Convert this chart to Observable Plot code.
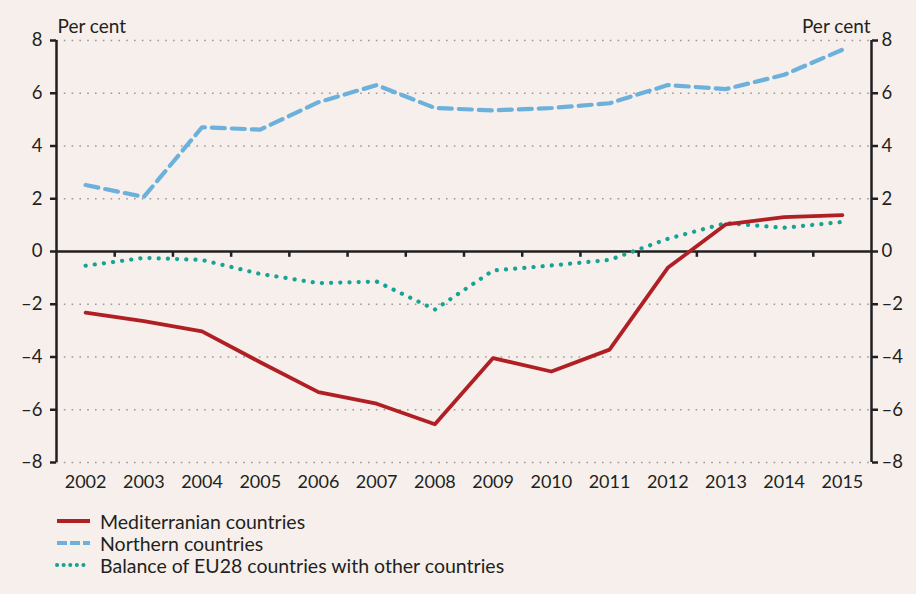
<!DOCTYPE html>
<html>
<head>
<meta charset="utf-8">
<script src="https://cdn.jsdelivr.net/npm/d3@7"></script>
<script src="https://cdn.jsdelivr.net/npm/@observablehq/plot@0.6"></script>
<style>
  html, body { margin: 0; padding: 0; background: #f6efec; }
  body { width: 916px; height: 594px; overflow: hidden; font-family: Lato, "Open Sans", sans-serif; color: #231f20; }
  #chart svg { display: block; }
  #legend { margin-left: 55px; margin-top: 10px; font-size: 19.5px; }
  .row { display: flex; align-items: center; height: 22px; }
  .row svg { margin-right: 8px; }
</style>
</head>
<body>
<div id="chart"></div>
<div id="legend"></div>
<script>
const years = [2002,2003,2004,2005,2006,2007,2008,2009,2010,2011,2012,2013,2014,2015];
const mediterranean = [-2.32,-2.64,-3.03,-4.2,-5.33,-5.77,-6.55,-4.04,-4.55,-3.72,-0.62,1.03,1.3,1.38];
const northern = [2.52,2.07,4.71,4.62,5.66,6.31,5.44,5.35,5.44,5.62,6.31,6.16,6.7,7.65];
const balance = [-0.54,-0.24,-0.32,-0.85,-1.2,-1.14,-2.2,-0.72,-0.53,-0.32,0.48,1.08,0.9,1.12];
const yTicks = [-8,-6,-4,-2,0,2,4,6,8];
const seriesNames = ["Mediterranian countries","Northern countries","Balance of EU28 countries with other countries"];

const colors = {red: "#b01f24", blue: "#6cb0dc", teal: "#15a393"};
const fmt = d => d < 0 ? "\u2013" + Math.abs(d) : String(d);

const med = years.map((x, i) => ({x, y: mediterranean[i]}));
const nor = years.map((x, i) => ({x, y: northern[i]}));
const bal = years.map((x, i) => ({x, y: balance[i]}));
const bounds = years.slice(0, -1).map(y => y + 0.5);

const plot = Plot.plot({
  width: 916,
  height: 500,
  marginLeft: 56,
  marginRight: 45,
  marginTop: 40,
  marginBottom: 38,
  style: {fontFamily: "Lato, 'Open Sans', sans-serif", fontSize: "18px", background: "transparent", color: "#231f20"},
  x: {domain: [2001.5, 2015.5]},
  y: {domain: [-8, 8]},
  marks: [
    Plot.ruleY(yTicks.filter(d => d !== 0), {stroke: "#9a9a9a", strokeWidth: 1.6, strokeDasharray: "1.6,6.2"}),
    Plot.ruleY([0], {stroke: "#231f20", strokeWidth: 2.5}),
    Plot.ruleX(bounds, {y1: 0, y2: -0.22, stroke: "#231f20", strokeWidth: 2.5}),
    Plot.ruleX([2001.5, 2015.5], {y1: -8, y2: 8, stroke: "#231f20", strokeWidth: 2.5}),
    Plot.axisX(years, {tickSize: 0, tickPadding: 13, tickFormat: d => String(d), label: null, fontSize: 18}),
    Plot.axisY(yTicks, {anchor: "left", tickSize: 6, tickPadding: 8, tickFormat: fmt, label: null, strokeWidth: 2.5, fontSize: 18.5}),
    Plot.axisY(yTicks, {anchor: "right", tickSize: 6, tickPadding: 4, tickFormat: fmt, label: null, strokeWidth: 2.5, fontSize: 18.5}),
    Plot.text(["Per cent"], {frameAnchor: "top-left", textAnchor: "start", lineAnchor: "bottom", dy: -8, dx: 1, fontSize: 19}),
    Plot.text(["Per cent"], {frameAnchor: "top-right", textAnchor: "end", lineAnchor: "bottom", dy: -8, dx: -1, fontSize: 19}),
    Plot.line(bal, {x: "x", y: "y", stroke: colors.teal, strokeWidth: 4.2, strokeDasharray: "0.1,9.1", strokeLinecap: "round"}),
    Plot.line(nor, {x: "x", y: "y", stroke: colors.blue, strokeWidth: 4.2, strokeDasharray: "13,7", strokeLinecap: "round"}),
    Plot.line(med, {x: "x", y: "y", stroke: colors.red, strokeWidth: 3.8})
  ]
});
document.getElementById("chart").appendChild(plot);

const styles = [
  {stroke: colors.red, dash: null, cap: "butt"},
  {stroke: colors.blue, dash: "10,3", cap: "butt"},
  {stroke: colors.teal, dash: "0.1,6.5", cap: "round"}
];
const legend = document.getElementById("legend");
seriesNames.forEach((name, i) => {
  const s = styles[i];
  const row = document.createElement("div");
  row.className = "row";
  row.innerHTML = `<svg width="37" height="10"><line x1="2" x2="35" y1="5" y2="5" stroke="${s.stroke}" stroke-width="4" stroke-linecap="${s.cap}" ${s.dash ? `stroke-dasharray="${s.dash}"` : ""}/></svg><span>${name}</span>`;
  legend.appendChild(row);
});
</script>
</body>
</html>
